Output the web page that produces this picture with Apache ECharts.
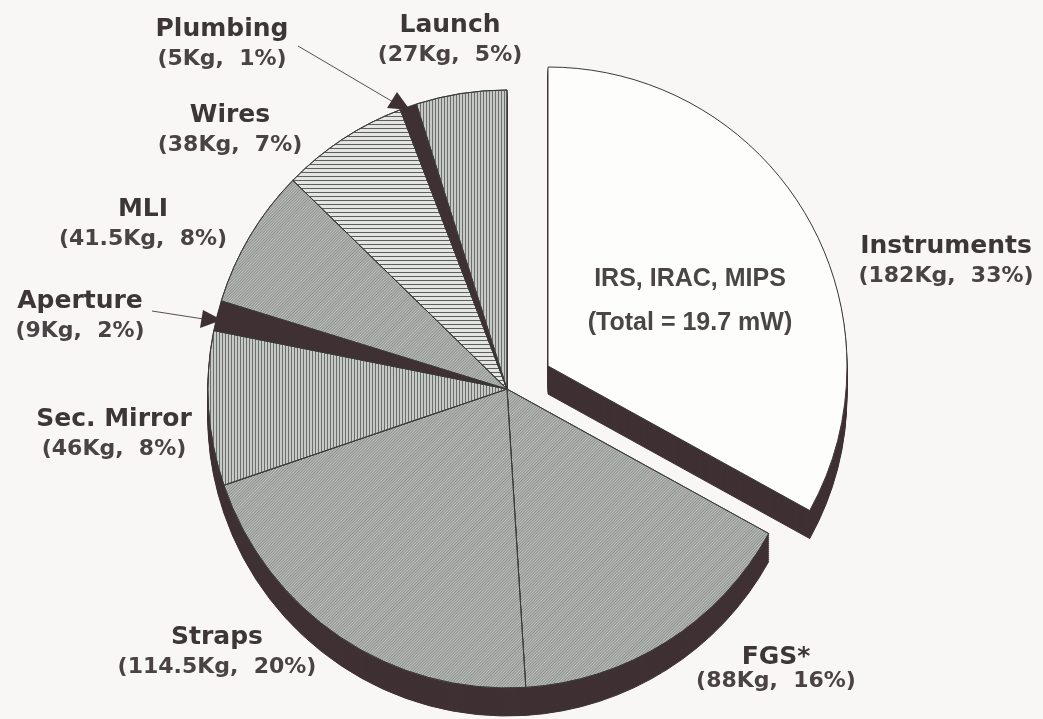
<!DOCTYPE html>
<html><head><meta charset="utf-8">
<style>html,body{margin:0;padding:0;background:#f8f7f6}#c{width:1043px;height:719px}</style>
<script src="https://cdn.jsdelivr.net/npm/echarts@6/dist/echarts.min.js"></script>
</head><body><div id="c"></div>
<script>
const names = ['Instruments','FGS*','Straps','Sec. Mirror','Aperture','MLI','Wires','Plumbing','Launch'];
const massKg = [182,88,114.5,46,9,41.5,38,5,27];
const percents = [33,16,20,8,2,8,7,1,5];
const labelAnchors = [[946,261],[776,669],[217,652],[114,434],[80,316],[143,224],[230,130],[222,44],[450,40]];

const INK='#3d3638', SHADOW='#3f3033';
const R=299, C=[507,389], X=[548,366], DEPTH=28;
const diag={symbol:'rect',dashArrayX:[1,0],dashArrayY:[1,1],rotation:-Math.PI/4,color:'#8e928e'};
const vert={symbol:'rect',dashArrayX:[1,2],dashArrayY:[1,0],rotation:0,color:'#6a6f6b'};
const horiz={symbol:'rect',dashArrayX:[1,0],dashArrayY:[1,3],rotation:0,color:'#5b605c'};
const fills=[
 {color:'#fdfdfb'},
 {color:'#bcbfba',decal:diag},
 {color:'#bcbfba',decal:diag},
 {color:'#c6c9c4',decal:vert},
 {color:SHADOW},
 {color:'#bcbfba',decal:diag},
 {color:'#e4e5e1',decal:horiz},
 {color:SHADOW},
 {color:'#c6c9c4',decal:vert}
];
const none={color:'transparent',borderWidth:0};
function pie(center,styleFor,extra){
  return Object.assign({
    type:'pie',center,radius:[0,R],startAngle:90,clockwise:true,silent:true,animation:false,
    label:{show:false},labelLine:{show:false},
    data:names.map((n,i)=>({name:n,value:massKg[i],itemStyle:styleFor(i)}))
  },extra||{});
}
const solid={color:SHADOW,borderColor:SHADOW,borderWidth:1};
const face=i=>Object.assign({borderColor:'#3a3a38',borderWidth:1},fills[i]);
const series=[];
for(let d=DEPTH;d>0;d-=2){
  series.push(pie([C[0],C[1]+d],i=>i===0?none:solid,{z:1}));
  series.push(pie([X[0],X[1]+d],i=>i===0?solid:none,{z:2}));
}
series.push(pie(C,i=>i===0?none:face(i),{z:3}));
series.push(pie(X,i=>i===0?face(i):none,{z:4}));
const rich=lh=>({b:{fontFamily:'DejaVu Sans',fontWeight:'bold',fontSize:25,lineHeight:lh,color:INK},
                 v:{fontFamily:'DejaVu Sans',fontWeight:'bold',fontSize:22,lineHeight:lh,color:'#4a4345'}});
const labelSeries=Object.assign(pie(C,()=>none,{z:5}),{
    avoidLabelOverlap:false,
    label:{show:true,position:'outside',color:INK,
      formatter:p=>`{b|${p.name}}\n{v|(${massKg[p.dataIndex]}Kg,  ${percents[p.dataIndex]}%)}`,
      rich:rich(30)},
    labelLayout:p=>({x:labelAnchors[p.dataIndex][0],y:labelAnchors[p.dataIndex][1],align:'center',verticalAlign:'middle',hideOverlap:false})
});
labelSeries.data[1].label={rich:rich(24)};
series.push(labelSeries);
const annot=(x,y,t)=>({type:'text',z:100,x,y,style:{text:t,fill:'#4a4647',font:'bold 25px "Liberation Sans"',textAlign:'center',textVerticalAlign:'middle'}});
const arrow=(a,b,h)=>[
  {type:'line',z:100,shape:{x1:a[0],y1:a[1],x2:b[0],y2:b[1]},style:{stroke:'#55504f',lineWidth:1}},
  {type:'polygon',z:100,shape:{points:h},style:{fill:SHADOW}}
];
echarts.init(document.getElementById('c'),null,{renderer:'canvas'}).setOption({
  backgroundColor:'#f8f7f6',
  animation:false,
  series,
  graphic:[
    annot(690,279,'IRS, IRAC, MIPS'),
    annot(690,323,'(Total = 19.7 mW)'),
    ...arrow([298,46],[400,106],[[397,92],[387,108],[410,110]]),
    ...arrow([152,311],[210,320],[[203,310],[200,328],[222,320]])
  ]
});
</script></body></html>
